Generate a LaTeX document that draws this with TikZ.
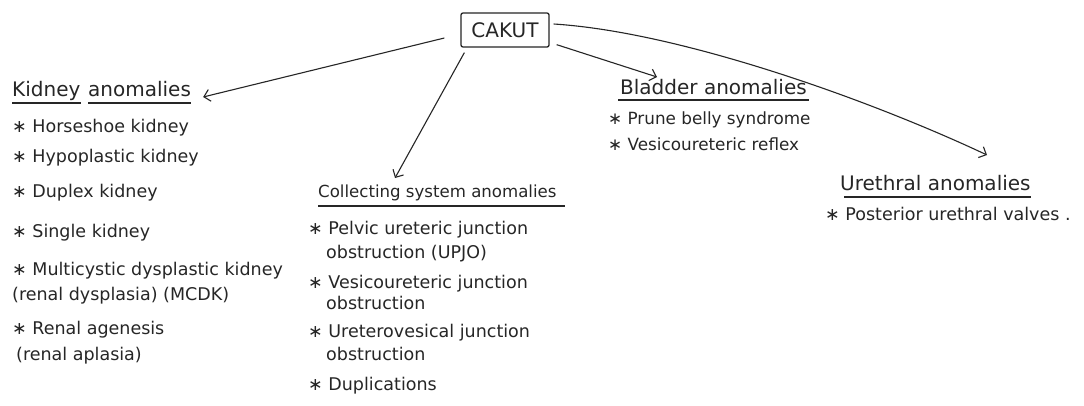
\documentclass[tikz,border=0pt]{standalone}
\usepackage{fontspec}
\setmainfont{DejaVu Sans}
\usetikzlibrary{arrows.meta,calc}
\definecolor{ink}{HTML}{262626}
\tikzset{
  txt/.style={anchor=base west,inner sep=0pt,font=\fontsize{17.5}{19}\selectfont,text=ink},
  btxt/.style={txt,font=\fontsize{16.8}{18}\selectfont},
  ttl/.style={anchor=base west,inner sep=0pt,font=\fontsize{20}{22}\selectfont,text=ink},
  cttl/.style={ttl,font=\fontsize{16.6}{18}\selectfont},
  uline/.style={draw=ink,line width=1.3pt},
  arr/.style={draw=ink,line width=1.1pt,-{Straight Barb[length=6pt,width=12pt]}},
  rootbox/.style={draw=ink,line width=1.3pt,rounded corners=2pt,minimum width=88pt,minimum height=34pt,inner sep=0pt,font=\fontsize{20}{22}\selectfont,text=ink}
}
\newcommand{\bul}{∗\ }
\begin{document}
\begin{tikzpicture}[x=1pt,y=-1pt]
\useasboundingbox (0,0) rectangle (1084,405);
\fill[white] (0,0) rectangle (1084,405);
% root
\node[rootbox] (cakut) at (505,30) {CAKUT};
% kidney
\node[ttl] (kid1) at (12,96) {Kidney};
\node[ttl] (kid2) at (88,96) {anomalies};
\draw[uline] ($(kid1.base west)+(0,7)$) -- ($(kid1.base east)+(0,7)$);
\draw[uline] ($(kid2.base west)+(0,7)$) -- ($(kid2.base east)+(0,7)$);
\node[txt] (k1) at (12,132) {\bul Horseshoe kidney};
\node[txt] (k2) at (12,162) {\bul Hypoplastic kidney};
\node[txt] (k3) at (12,197) {\bul Duplex kidney};
\node[txt] (k4) at (12,237) {\bul Single kidney};
\node[txt] (k5) at (12,275) {\bul Multicystic dysplastic kidney};
\node[txt] (k5b) at (12,300) {(renal dysplasia) (MCDK)};
\node[txt] (k6) at (12,334) {\bul Renal agenesis};
\node[txt] (k6b) at (16,360) {(renal aplasia)};
% collecting
\node[cttl] (coll) at (318,197) {Collecting system anomalies};
\draw[uline] ($(coll.base west)+(0,9)$) -- ($(coll.base east)+(8,9)$);
\node[txt] (c1) at (308,234) {\bul Pelvic ureteric junction};
\node[txt] (c1b) at (326,258) {obstruction (UPJO)};
\node[txt] (c2) at (308,288) {\bul Vesicoureteric junction};
\node[txt] (c2b) at (326,309) {obstruction};
\node[txt] (c3) at (308,337) {\bul Ureterovesical junction};
\node[txt] (c3b) at (326,360) {obstruction};
\node[txt] (c4) at (308,390) {\bul Duplications};
% bladder
\node[ttl] (blad) at (620,94) {Bladder anomalies};
\draw[uline] ($(blad.base west)+(-2,6)$) -- ($(blad.base east)+(2,6)$);
\node[btxt] (b1) at (608,124) {\bul Prune belly syndrome};
\node[btxt] (b2) at (608,150) {\bul Vesicoureteric reflex};
% urethral
\node[ttl] (ure) at (840,190) {Urethral anomalies};
\draw[uline] ($(ure.base west)+(4,7)$) -- ($(ure.base east)+(0,7)$);
\node[txt] (u1) at (825,220) {\bul Posterior urethral valves .};
% arrows
\draw[arr] ($(cakut.west)+(-16,8)$) -- ($(kid2.base east)+(12,1)$);
\draw[arr] ($(cakut.south west)+(4,5)$) -- ($(coll.base west)+(77,-19)$);
\draw[arr] ($(cakut.south east)+(7,-3)$) -- ($(blad.base west)+(37,-17)$);
\draw[arr] ($(cakut.east)+(4,-6)$) .. controls +(127,8) and +(-117,-55) .. ($(ure.base west)+(147,-35)$);
\end{tikzpicture}
\end{document}
